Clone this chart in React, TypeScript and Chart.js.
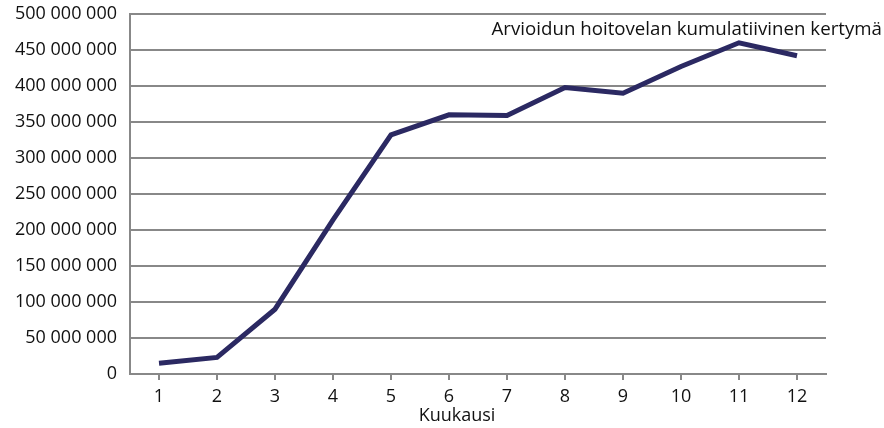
import React, { useEffect, useRef } from "react";
import { Chart, registerables } from "chart.js";

Chart.register(...registerables);

const months = ["1", "2", "3", "4", "5", "6", "7", "8", "9", "10", "11", "12"];
const cumulativeDebt = [
  15000000, 23000000, 90000000, 214000000, 332000000, 360000000,
  359000000, 398000000, 390000000, 427000000, 460000000, 442000000,
];
const seriesLabel = "Arvioidun hoitovelan kumulatiivinen kertymä";
const xAxisTitle = "Kuukausi";

const FONT = "'Open Sans', sans-serif";
const GRID = "#888888";
const TEXT = "#111111";

function fmt(v: number): string {
  return String(Math.round(v)).replace(/\B(?=(\d{3})+(?!\d))/g, " ");
}

const textPlugin = {
  id: "customText",
  afterDraw(chart: any) {
    const { ctx, chartArea } = chart;
    ctx.save();
    ctx.fillStyle = TEXT;
    ctx.textBaseline = "middle";
    ctx.textAlign = "right";
    ctx.font = `18.7px ${FONT}`;
    ctx.fillText(seriesLabel, chart.width - 2, 30);
    ctx.font = `18px ${FONT}`;
    ctx.textAlign = "center";
    ctx.fillText(xAxisTitle, (chartArea.left + chartArea.right) / 2 - 21, 416);
    ctx.restore();
  },
};

export default function App() {
  const ref = useRef<HTMLCanvasElement | null>(null);
  useEffect(() => {
    document.body.style.margin = "0";
    const chart = new Chart(ref.current!, {
      type: "line",
      data: {
        labels: months,
        datasets: [
          {
            label: seriesLabel,
            data: cumulativeDebt,
            borderColor: "#2b2962",
            borderWidth: 5,
            pointRadius: 0,
            tension: 0,
            fill: false,
          },
        ],
      },
      options: {
        responsive: false,
        animation: false,
        layout: { padding: { top: 14, right: 58, left: 0, bottom: 0 } },
        plugins: {
          legend: { display: false },
          tooltip: { enabled: false },
          title: { display: false },
        },
        scales: {
          x: {
            type: "category",
            offset: true,
            grid: {
              display: true,
              drawOnChartArea: false,
              drawTicks: true,
              tickLength: 6,
              color: GRID,
              lineWidth: 2,
              offset: false,
            },
            border: { display: true, color: GRID, width: 2 },
            ticks: {
              color: TEXT,
              font: { family: FONT, size: 18 },
              padding: 6,
              maxRotation: 0,
            },
            afterFit: (scale: any) => {
              scale.height = 54;
              scale.paddingLeft = 0;
              scale.paddingRight = 0;
            },
          },
          y: {
            min: 0,
            max: 500000000,
            grid: {
              color: GRID,
              lineWidth: 2,
              drawTicks: false,
            },
            border: { display: true, color: GRID, width: 2 },
            ticks: {
              stepSize: 50000000,
              color: TEXT,
              font: { family: FONT, size: 18 },
              padding: 13,
              callback: (v: any) => fmt(Number(v)),
            },
            afterFit: (scale: any) => {
              scale.width = 130;
              scale.paddingTop = 0;
              scale.paddingBottom = 0;
            },
          },
        },
      },
      plugins: [textPlugin],
    });
    return () => chart.destroy();
  }, []);
  return (
    <div style={{ width: 884, height: 428 }}>
      <canvas ref={ref} width={884} height={428} style={{ display: "block" }} />
    </div>
  );
}
